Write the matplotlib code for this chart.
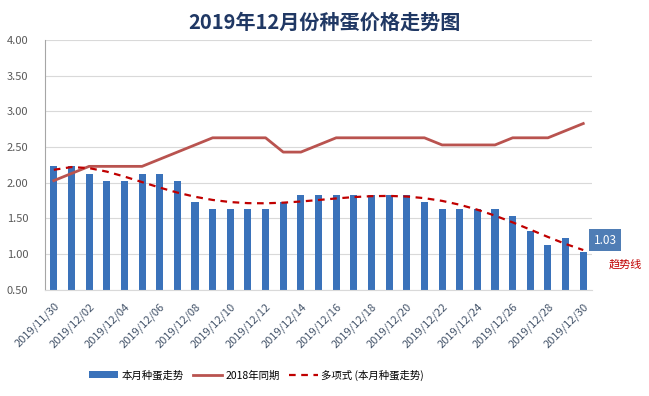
import numpy as np
from matplotlib import pyplot as plt

plt.rcParams['font.family'] = ['Noto Sans CJK SC', 'DejaVu Sans']

dates = ['2019/11/30'] + ['2019/12/%02d' % d for d in range(1, 31)]
price = [2.23, 2.23, 2.13, 2.03, 2.03, 2.13, 2.13, 2.03, 1.73, 1.63, 1.63,
         1.63, 1.63, 1.73, 1.83, 1.83, 1.83, 1.83, 1.83, 1.83, 1.83, 1.73,
         1.63, 1.63, 1.63, 1.63, 1.53, 1.33, 1.13, 1.23, 1.03]
last_year = [2.03, 2.13, 2.23, 2.23, 2.23, 2.23, 2.33, 2.43, 2.53, 2.63, 2.63,
             2.63, 2.63, 2.43, 2.43, 2.53, 2.63, 2.63, 2.63, 2.63, 2.63, 2.63,
             2.53, 2.53, 2.53, 2.53, 2.63, 2.63, 2.63, 2.73, 2.83]

x = np.arange(len(dates))
# polynomial trendline of this month's prices (as in the Excel chart)
coef = np.polyfit(x, price, 6)
trend = np.polyval(coef, x)

fig = plt.figure(figsize=(6.49, 3.96), dpi=100)
ax = fig.add_axes([0.0693, 0.268, 0.843, 0.631])

b = ax.bar(x, price, width=0.4, color='#3A72BA', zorder=2)
l1, = ax.plot(x, last_year, color='#B9534F', lw=2.0, zorder=3)
l2, = ax.plot(x, trend, color='#C00000', lw=1.6, ls=(0, (3, 2.5)), zorder=4)

ax.set_xlim(-0.5, len(dates) - 0.5)
ax.set_ylim(0.5, 4.0)
ax.set_yticks(np.arange(0.5, 4.01, 0.5))
ax.set_yticklabels(['%.2f' % v for v in np.arange(0.5, 4.01, 0.5)])
ax.set_xticks(x[::2])
ax.set_xticklabels(dates[::2], rotation=45, ha='right', rotation_mode='anchor')
ax.tick_params(axis='both', length=0, colors='#595959', labelsize=8)
ax.tick_params(axis='x', pad=8, labelcolor='#44546A')
ax.tick_params(axis='y', pad=12)
ax.grid(axis='y', color='#D9D9D9', lw=0.8, zorder=0)
for s in ['top', 'right']:
    ax.spines[s].set_visible(False)
ax.spines['left'].set_color('#A6A6A6')
ax.spines['bottom'].set_color('#D9D9D9')

ax.annotate('%.2f' % price[-1], xy=(x[-1], price[-1]), xytext=(22, 12),
            textcoords='offset pixels', ha='center', va='center', color='white',
            fontsize=8.5, annotation_clip=False,
            bbox=dict(boxstyle='square,pad=0.4', fc='#4F7DB5', ec='none'))
ax.annotate('趋势线', xy=(x[-1], trend[-1]), xytext=(42, -14),
            textcoords='offset pixels', ha='center', va='center',
            color='#C00000', fontsize=8, annotation_clip=False)

fig.suptitle('2019年12月份种蛋价格走势图', y=0.97, fontsize=14.5,
             fontweight='bold', color='#203864')
fig.legend([b, l1, l2], ['本月种蛋走势', '2018年同期', '多项式 (本月种蛋走势)'],
           loc='center', bbox_to_anchor=(0.395, 0.053), ncol=3, frameon=False,
           fontsize=7.5, handlelength=2.8, handleheight=0.6, columnspacing=0.9,
           handletextpad=0.3)

fig.savefig('out.png', dpi=100)
